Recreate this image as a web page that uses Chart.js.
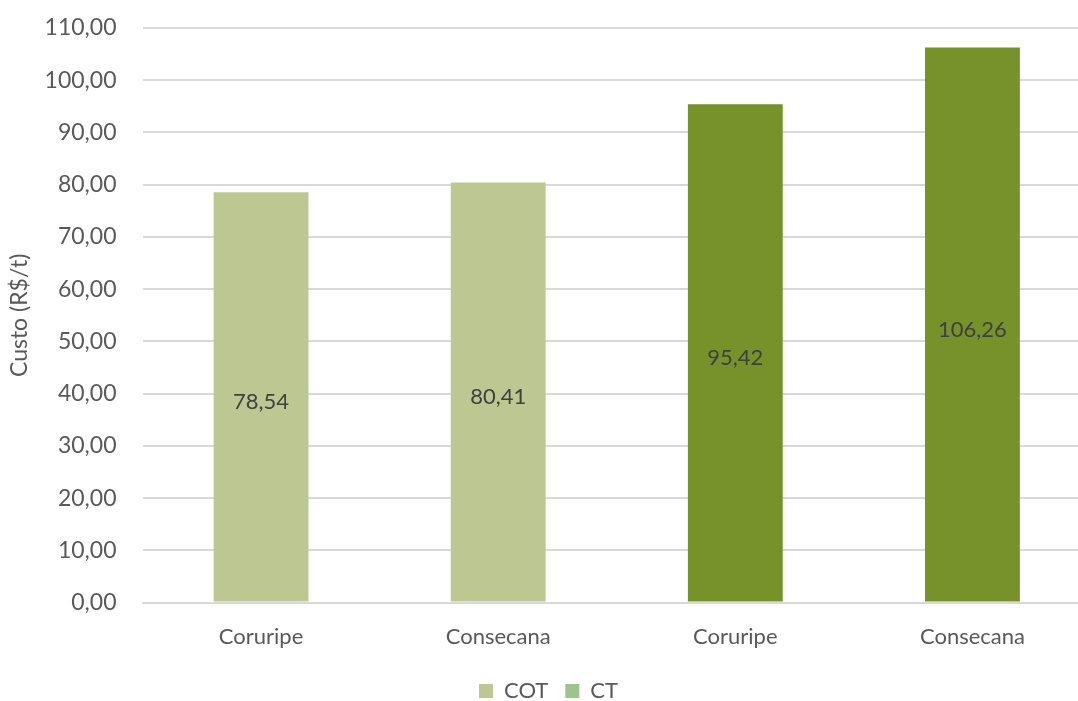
<!DOCTYPE html>
<html>
<head>
<meta charset="utf-8">
<script src="https://cdn.jsdelivr.net/npm/chart.js@4/dist/chart.umd.min.js"></script>
<style>
  html, body { margin: 0; padding: 0; background: #fff; overflow: hidden; }
  /* a area do gráfico passa um pouco da borda direita, como no original recortado */
  #box { width: 1091px; height: 701px; }
</style>
</head>
<body>
<div id="box"><canvas id="custoChart"></canvas></div>
<script>
const categorias = ['Coruripe', 'Consecana', 'Coruripe', 'Consecana'];
const valoresCOT = [78.54, 80.41, null, null];
const valoresCT = [null, null, 95.42, 106.26];
const nomesSeries = ['COT', 'CT'];

const fmt = v => v.toFixed(2).replace('.', ',');
const fonte = 'Lato, "Open Sans", sans-serif';

const rotulosBarras = {
    id: 'rotulosBarras',
    afterDatasetsDraw(chart) {
        const ctx = chart.ctx;
        ctx.save();
        ctx.font = '22px ' + fonte;
        ctx.fillStyle = '#404040';
        ctx.textAlign = 'center';
        ctx.textBaseline = 'middle';
        chart.data.datasets.forEach((ds, i) => {
            chart.getDatasetMeta(i).data.forEach((bar, j) => {
                const v = ds.data[j];
                if (v == null) return;
                const mid = (bar.y + bar.base) / 2;
                ctx.fillText(fmt(v), bar.x, mid + 5);
            });
        });
        ctx.restore();
    }
};

new Chart(document.getElementById('custoChart'), {
    type: 'bar',
    data: {
        labels: categorias,
        datasets: [{
            label: nomesSeries[0],
            data: valoresCOT,
            backgroundColor: '#bcc792',
            borderWidth: 0
        }, {
            label: nomesSeries[1],
            data: valoresCT,
            backgroundColor: '#77922b',
            borderWidth: 0
        }]
    },
    options: {
        responsive: true,
        maintainAspectRatio: false,
        animation: false,
        layout: { padding: { left: 6, right: 0, top: 28, bottom: -11 } },
        datasets: {
            bar: { grouped: false, categoryPercentage: 0.8, barPercentage: 0.5 }
        },
        plugins: {
            tooltip: { enabled: false },
            legend: {
                position: 'bottom',
                labels: {
                    font: { family: fonte, size: 22 },
                    color: '#595959',
                    boxWidth: 14,
                    boxHeight: 14,
                    padding: 17,
                    generateLabels: chart => nomesSeries.map((n, i) => ({
                        text: n,
                        fillStyle: i === 0 ? '#bcc792' : '#9dc48c',
                        strokeStyle: 'transparent',
                        lineWidth: 0,
                        fontColor: '#595959',
                        datasetIndex: i
                    }))
                }
            }
        },
        scales: {
            x: {
                grid: { display: false },
                border: { color: '#d9d9d9', width: 2 },
                ticks: {
                    font: { family: fonte, size: 22 },
                    color: '#595959',
                    padding: 13
                }
            },
            y: {
                min: 0,
                max: 110,
                border: { display: false },
                grid: {
                    color: '#d9d9d9',
                    lineWidth: 2,
                    drawTicks: true,
                    tickLength: 25,
                    tickColor: 'rgba(0,0,0,0)'
                },
                ticks: {
                    stepSize: 10,
                    font: { family: fonte, size: 23 },
                    color: '#595959',
                    padding: 1,
                    callback: v => fmt(v)
                },
                title: {
                    display: true,
                    text: 'Custo (R$/t)',
                    font: { family: fonte, size: 23 },
                    color: '#595959',
                    padding: { top: 0, bottom: 10 }
                }
            }
        }
    },
    plugins: [rotulosBarras]
});
</script>
</body>
</html>
